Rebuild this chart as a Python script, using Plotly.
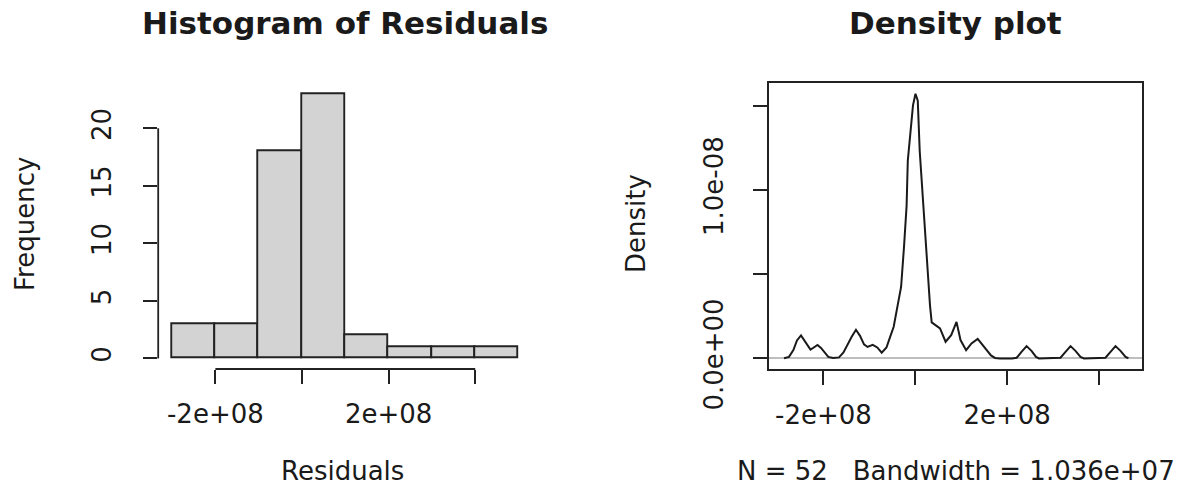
import plotly.graph_objects as go

# ---------------- data ----------------
hist_breaks = [-3e8, -2e8, -1e8, 0, 1e8, 2e8, 3e8, 4e8, 5e8]
hist_counts = [3, 3, 18, 23, 2, 1, 1, 1]

hist_yticks = [0, 5, 10, 15, 20]
hist_xticks = [-2e8, 0, 2e8, 4e8]
hist_xticktext = ["-2e+08", "", "2e+08", ""]

dens_x = [-2.857e8, -2.749e8, -2.653e8, -2.575e8, -2.487e8, -2.379e8, -2.281e8, -2.226e8,
          -2.128e8, -2.052e8, -1.976e8, -1.893e8, -1.791e8, -1.660e8, -1.563e8, -1.476e8,
          -1.384e8, -1.291e8, -1.203e8, -1.116e8, -1.040e8, -0.927e8, -0.827e8, -0.731e8,
          -0.627e8, -0.551e8, -0.470e8, -0.390e8, -0.309e8, -0.246e8, -0.189e8, -0.163e8,
          -0.107e8, -0.050e8, 0.004e8, 0.054e8, 0.096e8, 0.159e8, 0.215e8, 0.272e8,
          0.320e8, 0.357e8, 0.457e8, 0.538e8, 0.659e8, 0.781e8, 0.897e8, 0.984e8,
          1.106e8, 1.223e8, 1.358e8, 1.452e8, 1.550e8, 1.647e8, 1.734e8, 1.843e8,
          2.104e8, 2.207e8, 2.311e8, 2.422e8, 2.529e8, 2.627e8, 2.692e8, 3.084e8,
          3.160e8, 3.269e8, 3.378e8, 3.486e8, 3.595e8, 3.671e8, 4.085e8, 4.139e8,
          4.248e8, 4.357e8, 4.466e8, 4.575e8, 4.639e8]
dens_y = [0.01e-9, 0.09e-9, 0.49e-9, 1.07e-9, 1.37e-9, 0.89e-9, 0.52e-9, 0.62e-9,
          0.80e-9, 0.62e-9, 0.36e-9, 0.09e-9, 0.02e-9, 0.06e-9, 0.36e-9, 0.83e-9,
          1.28e-9, 1.70e-9, 1.34e-9, 0.83e-9, 0.68e-9, 0.81e-9, 0.65e-9, 0.34e-9,
          0.65e-9, 1.25e-9, 1.88e-9, 3.06e-9, 4.24e-9, 6.61e-9, 9.07e-9, 11.74e-9,
          13.51e-9, 15.02e-9, 15.71e-9, 15.30e-9, 12.33e-9, 9.77e-9, 7.20e-9, 5.03e-9,
          3.15e-9, 2.14e-9, 1.91e-9, 1.78e-9, 0.99e-9, 1.38e-9, 2.17e-9, 1.09e-9,
          0.49e-9, 0.89e-9, 1.16e-9, 0.86e-9, 0.49e-9, 0.18e-9, 0.03e-9, 0.0,
          0.0, 0.04e-9, 0.39e-9, 0.73e-9, 0.45e-9, 0.09e-9, 0.0, 0.0,
          0.04e-9, 0.39e-9, 0.73e-9, 0.45e-9, 0.09e-9, 0.0, 0.0, 0.04e-9,
          0.39e-9, 0.73e-9, 0.45e-9, 0.09e-9, 0.01e-9]

dens_yticks = [0, 5e-9, 1e-8, 1.5e-8]
dens_yticktext = ["0.0e+00", "", "1.0e-08", ""]
dens_xticks = [-2e8, 0, 2e8, 4e8]
dens_xticktext = ["-2e+08", "", "2e+08", ""]
dens_xrange = [-3.177e8, 4.940e8]

n_obs = 52
bandwidth_label = "1.036e+07"

# ---------------- layout helpers ----------------
W, H = 1185, 486
FONT = "DejaVu Sans"
INK = "#1a1a1a"
AX = "#222222"


def px(x):
    return x / W


def py(y):
    return 1 - y / H


left_dom = [px(158.2), px(532.4)]
right_dom = [px(769.3), px(1142.3)]
y_dom = [py(369.0), py(83.2)]

centers = [(hist_breaks[i] + hist_breaks[i + 1]) / 2 for i in range(len(hist_counts))]
widths = [hist_breaks[i + 1] - hist_breaks[i] for i in range(len(hist_counts))]

fig = go.Figure()
fig.add_trace(go.Bar(
    x=centers, y=hist_counts, width=widths,
    marker=dict(color="#D3D3D3", line=dict(color=AX, width=1.9)),
    xaxis="x", yaxis="y", showlegend=False, hoverinfo="skip"))

fig.add_trace(go.Scatter(
    x=dens_x, y=dens_y, mode="lines",
    line=dict(color=INK, width=2),
    xaxis="x2", yaxis="y2", showlegend=False, hoverinfo="skip"))

hx = [hist_breaks[0], hist_breaks[-1]]
hspan = hx[1] - hx[0]
hmax = max(hist_counts)
dmax = max(dens_y)

tickfont = dict(family=FONT, size=26, color=INK)
common = dict(ticks="outside", ticklen=14, tickwidth=1.5, tickcolor=AX,
              showgrid=False, automargin=False, tickfont=tickfont)

fig.update_layout(
    width=W, height=H,
    margin=dict(l=0, r=0, t=0, b=0, pad=0, autoexpand=False),
    paper_bgcolor="white", plot_bgcolor="white",
    bargap=0, showlegend=False,
    xaxis=dict(domain=left_dom, anchor="y",
               range=[hx[0] - 0.04 * hspan, hx[1] + 0.04 * hspan],
               tickvals=hist_xticks, ticktext=hist_xticktext,
               showline=False, zeroline=False, ticklabelstandoff=8, **common),
    yaxis=dict(domain=y_dom, anchor="x",
               range=[-0.04 * hmax, 1.04 * hmax],
               tickvals=hist_yticks, ticktext=[str(v) for v in hist_yticks],
               tickangle=-90,
               showline=False, zeroline=False, ticklabelstandoff=22, **common),
    xaxis2=dict(domain=right_dom, anchor="y2",
                range=dens_xrange,
                tickvals=dens_xticks, ticktext=dens_xticktext,
                showline=True, linecolor=AX, linewidth=1.8, mirror=True,
                zeroline=False, ticklabelstandoff=8, **common),
    yaxis2=dict(domain=y_dom, anchor="x2",
                range=[-0.04 * dmax, 1.04 * dmax],
                tickvals=dens_yticks, ticktext=dens_yticktext,
                tickangle=-90,
                showline=True, linecolor=AX, linewidth=1.8, mirror=True,
                zeroline=True, zerolinecolor="#BEBEBE", zerolinewidth=1.5,
                ticklabelstandoff=20, **common),
)

# R-style axis lines spanning only the tick range (histogram panel)
fig.add_shape(type="line", xref="x", yref="paper",
              x0=hist_xticks[0], x1=hist_xticks[-1], y0=y_dom[0], y1=y_dom[0],
              line=dict(color=AX, width=1.8))
fig.add_shape(type="line", xref="paper", yref="y",
              x0=left_dom[0], x1=left_dom[0], y0=hist_yticks[0], y1=hist_yticks[-1],
              line=dict(color=AX, width=1.8))

annots = [
    dict(text="<b>Histogram of Residuals</b>", x=px(344.5), y=py(23), size=31, angle=0),
    dict(text="<b>Density plot</b>", x=px(955.8), y=py(23), size=31, angle=0),
    dict(text="Residuals", x=px(342), y=py(471), size=26, angle=0),
    dict(text="N = %d\u00a0\u00a0 Bandwidth = %s" % (n_obs, bandwidth_label),
         x=px(955.8), y=py(471), size=26, angle=0),
    dict(text="Frequency", x=px(25), y=py(224), size=26, angle=-90),
    dict(text="Density", x=px(636), y=py(224), size=26, angle=-90),
]
for a in annots:
    fig.add_annotation(text=a["text"], x=a["x"], y=a["y"], xref="paper", yref="paper",
                       xanchor="center", yanchor="middle", showarrow=False,
                       textangle=a["angle"],
                       font=dict(family=FONT, size=a["size"], color=INK))

fig.write_html("out.html")
